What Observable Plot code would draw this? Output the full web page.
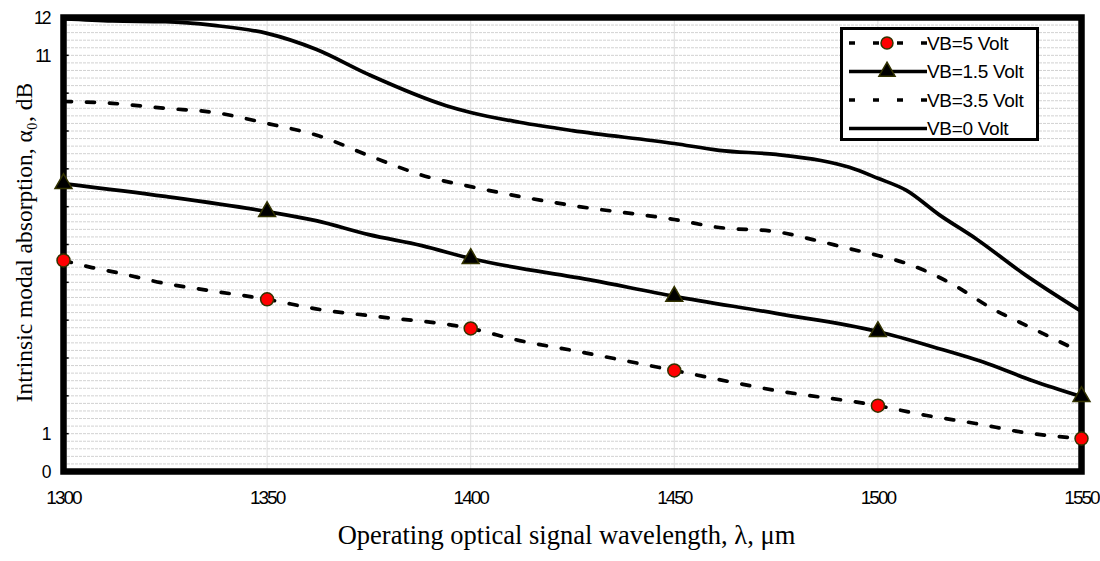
<!DOCTYPE html>
<html><head><meta charset="utf-8">
<script src="https://cdn.jsdelivr.net/npm/d3@7"></script>
<script src="https://cdn.jsdelivr.net/npm/@observablehq/plot@0.6"></script>
<style>
body{margin:0;background:#fff;}
#wrap{position:relative;width:1100px;height:561px;overflow:hidden;}
#wrap svg{display:block;}
#legend{position:absolute;left:840px;top:27px;}
</style></head><body><div id="wrap"></div>
<script>
// ---- data ----
const wavelengthTicks = [1300, 1350, 1400, 1450, 1500, 1550];
const yTickLabels = [0, 1, 11, 12];
const seriesNames = ["VB=5 Volt", "VB=1.5 Volt", "VB=3.5 Volt", "VB=0 Volt"];

const vb0Lambda = [1300,1312,1325,1337,1350,1362,1375,1394,1400,1412,1425,1450,1461,1475,1486,1493,1500,1507,1515,1524,1536,1550];
const vb0Values = [11.97,11.91,11.89,11.79,11.58,11.16,10.49,9.67,9.49,9.23,9.01,8.67,8.49,8.38,8.22,8.04,7.75,7.43,6.79,6.16,5.21,4.23];

const vb35Lambda = [1300,1312,1325,1337,1350,1363,1375,1390,1400,1412,1425,1450,1461,1475,1484,1493,1500,1507,1518,1528,1538,1550];
const vb35Values = [9.78,9.73,9.60,9.49,9.20,8.86,8.35,7.77,7.53,7.27,7.03,6.66,6.45,6.34,6.13,5.89,5.71,5.50,4.97,4.31,3.78,3.15];

const vb15Lambda = [1300,1325,1350,1362,1375,1388,1400,1430,1450,1475,1500,1514,1527,1538,1550];
const vb15Values = [7.61,7.27,6.87,6.63,6.26,5.97,5.63,5.05,4.63,4.18,3.70,3.28,2.85,2.40,1.98];

const vb5Lambda = [1300,1307,1313,1325,1336,1350,1363,1375,1400,1412,1425,1450,1475,1500,1512,1524,1536,1550];
const vb5Values = [5.58,5.39,5.26,4.97,4.78,4.55,4.28,4.12,3.78,3.46,3.20,2.67,2.14,1.74,1.48,1.27,1.03,0.87];

const markerLambda = [1300, 1350, 1400, 1450, 1500, 1550];
const vb15Markers = [7.61, 6.87, 5.63, 4.63, 3.70, 1.98];
const vb5Markers = [5.58, 4.55, 3.78, 2.67, 1.74, 0.87];

const xTitle = "Operating optical signal wavelength, λ, μm";
const yTitle = "Intrinsic modal absorption, α₀, dB";

// ---- build tables ----
const toRows = (lam, val) => lam.map((l, i) => ({lambda: l, value: val[i]}));
const vb0 = toRows(vb0Lambda, vb0Values);
const vb35 = toRows(vb35Lambda, vb35Values);
const vb15 = toRows(vb15Lambda, vb15Values);
const vb5 = toRows(vb5Lambda, vb5Values);
const vb15M = toRows(markerLambda, vb15Markers);
const vb5M = toRows(markerLambda, vb5Markers);
const gridY = d3.range(1, 60).map(i => +(i * 0.2).toFixed(1));
const innerTicksY = d3.range(1, 12);

const sans = "'Liberation Sans', Arial, sans-serif";
const serif = "'Liberation Serif', 'Times New Roman', serif";
const lineW = 3.7;
const dash = "8,15";
const curve = "monotone-x";

const chart = Plot.plot({
  width: 1100, height: 561,
  marginLeft: 63, marginRight: 19, marginTop: 17, marginBottom: 90,
  x: {domain: [1300, 1550], label: null, axis: null},
  y: {domain: [0, 12], label: null, axis: null},
  style: {background: "transparent", fontFamily: sans, color: "#000"},
  marks: [
    Plot.ruleY(gridY, {stroke: "#d2d2d2", strokeWidth: 1, strokeDasharray: "3,1"}),
    Plot.ruleX(wavelengthTicks.slice(1, -1), {stroke: "#dcdcdc", strokeWidth: 1}),
    Plot.ruleY(innerTicksY, {x1: 1300, x2: 1301.4, stroke: "#000", strokeWidth: 1.5}),
    Plot.line(vb0, {x: "lambda", y: "value", stroke: "#000", strokeWidth: lineW, curve}),
    Plot.line(vb35, {x: "lambda", y: "value", stroke: "#000", strokeWidth: lineW, strokeDasharray: dash, curve}),
    Plot.line(vb15, {x: "lambda", y: "value", stroke: "#000", strokeWidth: lineW, curve}),
    Plot.line(vb5, {x: "lambda", y: "value", stroke: "#000", strokeWidth: lineW, strokeDasharray: dash, curve}),
    Plot.frame({stroke: "#000", strokeWidth: 6.5}),
    Plot.dot(vb15M, {x: "lambda", y: "value", symbol: "triangle", r: 6.3, fill: "#000", stroke: "#333300", strokeWidth: 1.5}),
    Plot.dot(vb5M, {x: "lambda", y: "value", r: 6.5, fill: "#ff0000", stroke: "#333300", strokeWidth: 1.5}),
    // tick labels
    Plot.text(yTickLabels, {y: d => d, text: d => `${d}`, frameAnchor: "left", textAnchor: "end", dx: -14, dy: 1, fontSize: 17.5, fill: "#000"}),
    Plot.text(wavelengthTicks, {x: d => d, text: d => `${d}`, frameAnchor: "bottom", textAnchor: "middle", dy: 32, fontSize: 19, fill: "#000"}),
    // axis titles
    Plot.text([xTitle], {frameAnchor: "bottom", textAnchor: "middle", dx: -6, dy: 72, fontFamily: serif, fontSize: 26.5, fill: "#000"}),
    Plot.text([yTitle], {frameAnchor: "left", textAnchor: "middle", rotate: -90, dx: -39, dy: -2, fontFamily: serif, fontSize: 23.5, fill: "#000"})
  ]
});

const wrap = document.getElementById("wrap");
wrap.appendChild(chart);
const svg = d3.select(chart);
const tickTexts = new Set([...yTickLabels, ...wavelengthTicks].map(String));
svg.selectAll("text").filter(function() { return tickTexts.has(this.textContent); })
  .style("letter-spacing", "-2px");
svg.selectAll('[aria-label="frame"], [aria-label="frame"] *').style("stroke-width", "6.5px");

// ---- legend ----
const legendItems = [
  {name: seriesNames[0], dash: "6,18", marker: "circle"},
  {name: seriesNames[1], dash: null, marker: "triangle"},
  {name: seriesNames[2], dash: "6,18", marker: null},
  {name: seriesNames[3], dash: null, marker: null}
];
const lg = d3.select(wrap).append("svg").attr("id", "legend").attr("width", 199).attr("height", 114);
lg.append("rect").attr("x", 1.5).attr("y", 1.5).attr("width", 196).attr("height", 111)
  .attr("fill", "#fff").attr("stroke", "#000").attr("stroke-width", 3);
legendItems.forEach((it, i) => {
  const cy = 16 + i * 28.5;
  lg.append("line").attr("x1", 9).attr("x2", 87).attr("y1", cy).attr("y2", cy)
    .attr("stroke", "#000").attr("stroke-width", lineW).attr("stroke-dasharray", it.dash);
  if (it.marker === "circle") {
    lg.append("circle").attr("cx", 47).attr("cy", cy).attr("r", 6)
      .attr("fill", "#ff0000").attr("stroke", "#333300").attr("stroke-width", 1.5);
  } else if (it.marker === "triangle") {
    lg.append("path").attr("transform", `translate(47,${cy})`)
      .attr("d", d3.symbol(d3.symbolTriangle, Math.PI * 6 * 6)())
      .attr("fill", "#000").attr("stroke", "#333300").attr("stroke-width", 1.5);
  }
  lg.append("text").attr("x", 87).attr("y", cy).attr("dy", "0.35em")
    .attr("font-family", sans).attr("font-size", 19).attr("letter-spacing", "-0.3px").text(it.name);
});
</script>
</body></html>
